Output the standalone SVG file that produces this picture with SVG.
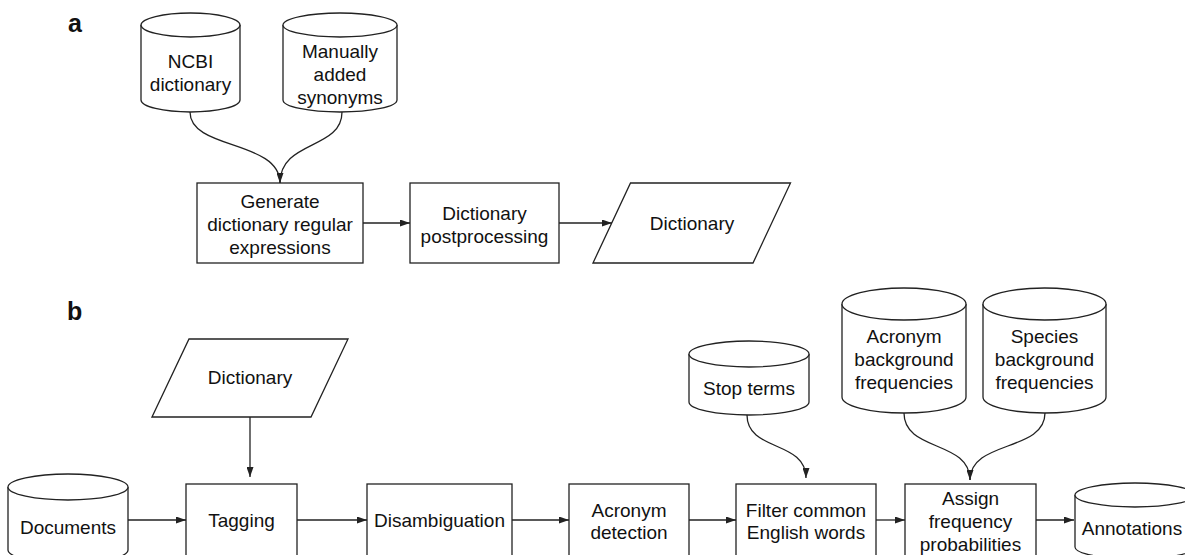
<svg xmlns="http://www.w3.org/2000/svg" width="1185" height="555" viewBox="0 0 1185 555">
<style>
.s{fill:#fff;stroke:#222;stroke-width:1.3}
.c{fill:none;stroke:#222;stroke-width:1.3}
text{font-family:"Liberation Sans",Arial,sans-serif;font-size:19px;fill:#111;text-anchor:middle}
.lbl{font-size:25px;font-weight:bold;text-anchor:start}
</style>
<defs>
<marker id="ah" markerUnits="userSpaceOnUse" markerWidth="10" markerHeight="7" refX="10" refY="3.5" orient="auto">
<path d="M0,0 L10,3.5 L0,7 z" fill="#222"/>
</marker>
</defs>
<text class="lbl" x="68" y="32">a</text>
<text class="lbl" x="67" y="320">b</text>

<g id="ncbi">
<path class="s" d="M141,25 L141,100 A49.5,12 0 0 0 240,100 L240,25"/>
<ellipse class="s" cx="190.5" cy="25" rx="49.5" ry="12"/>
<text x="190.5" y="68">NCBI</text>
<text x="190.5" y="91">dictionary</text>
</g>
<g id="manual">
<path class="s" d="M283,25 L283,100 A57,12 0 0 0 397,100 L397,25"/>
<ellipse class="s" cx="340" cy="25" rx="57" ry="12"/>
<text x="340" y="58">Manually</text>
<text x="340" y="81">added</text>
<text x="340" y="104">synonyms</text>
</g>
<g id="generate">
<rect class="s" x="197" y="183" width="166" height="80"/>
<text x="280" y="208">Generate</text>
<text x="280" y="231">dictionary regular</text>
<text x="280" y="254">expressions</text>
</g>
<g id="postproc">
<rect class="s" x="410" y="183" width="149" height="80"/>
<text x="484.5" y="220">Dictionary</text>
<text x="484.5" y="243">postprocessing</text>
</g>
<g id="dictA">
<polygon class="s" points="593,263 630.5,183 790.5,183 753,263"/>
<text x="692" y="230">Dictionary</text>
</g>

<g id="dictB">
<polygon class="s" points="152,417 189,339 348,339 311,417"/>
<text x="250" y="384">Dictionary</text>
</g>
<g id="documents">
<path class="s" d="M8,487 L8,550 A60,13 0 0 0 128,550 L128,487"/>
<ellipse class="s" cx="68" cy="487" rx="60" ry="13"/>
<text x="68" y="534">Documents</text>
</g>
<g id="tagging">
<rect class="s" x="186" y="484" width="111" height="80"/>
<text x="241.5" y="527">Tagging</text>
</g>
<g id="disamb">
<rect class="s" x="367" y="484" width="145" height="80"/>
<text x="439.5" y="527">Disambiguation</text>
</g>
<g id="acrodet">
<rect class="s" x="569" y="484" width="120" height="80"/>
<text x="629" y="517">Acronym</text>
<text x="629" y="539">detection</text>
</g>
<g id="filter">
<rect class="s" x="736" y="484" width="140" height="80"/>
<text x="806" y="517">Filter common</text>
<text x="806" y="539">English words</text>
</g>
<g id="assign">
<rect class="s" x="905" y="484" width="131" height="80"/>
<text x="970.5" y="505">Assign</text>
<text x="970.5" y="528">frequency</text>
<text x="970.5" y="551">probabilities</text>
</g>
<g id="annotations">
<path class="s" d="M1075,495 L1075,547 A60,12 0 0 0 1195,547 L1195,495"/>
<ellipse class="s" cx="1135" cy="495" rx="60" ry="12"/>
<text x="1132" y="535">Annotations</text>
</g>
<g id="stopterms">
<path class="s" d="M689,354 L689,402 A60,13 0 0 0 809,402 L809,354"/>
<ellipse class="s" cx="749" cy="354" rx="60" ry="13"/>
<text x="749" y="395">Stop terms</text>
</g>
<g id="acrobg">
<path class="s" d="M842,304 L842,397 A62,16 0 0 0 966,397 L966,304"/>
<ellipse class="s" cx="904" cy="304" rx="62" ry="16"/>
<text x="904" y="343">Acronym</text>
<text x="904" y="366">background</text>
<text x="904" y="389">frequencies</text>
</g>
<g id="speciesbg">
<path class="s" d="M983,304 L983,397 A61.5,16 0 0 0 1106,397 L1106,304"/>
<ellipse class="s" cx="1044.5" cy="304" rx="61.5" ry="16"/>
<text x="1044.5" y="343">Species</text>
<text x="1044.5" y="366">background</text>
<text x="1044.5" y="389">frequencies</text>
</g>

<g id="connectors">
<path class="c" d="M190,112 C190,150 280,140 280,183" marker-end="url(#ah)"/>
<path class="c" d="M342,112 C342,150 280,140 280,183"/>
<path class="c" d="M363,223 L410,223" marker-end="url(#ah)"/>
<path class="c" d="M559,223 L612,223" marker-end="url(#ah)"/>
<path class="c" d="M250,417 L250,477" marker-end="url(#ah)"/>
<path class="c" d="M128,520 L186,520" marker-end="url(#ah)"/>
<path class="c" d="M297,520 L367,520" marker-end="url(#ah)"/>
<path class="c" d="M512,520 L569,520" marker-end="url(#ah)"/>
<path class="c" d="M689,520 L736,520" marker-end="url(#ah)"/>
<path class="c" d="M876,520 L905,520" marker-end="url(#ah)"/>
<path class="c" d="M1036,520 L1074,520" marker-end="url(#ah)"/>
<path class="c" d="M747,415 C747,452 806,440 806,478" marker-end="url(#ah)"/>
<path class="c" d="M904,413 C904,452 970,440 970,480" marker-end="url(#ah)"/>
<path class="c" d="M1045,413 C1045,452 970,440 970,480"/>
</g>
</svg>
